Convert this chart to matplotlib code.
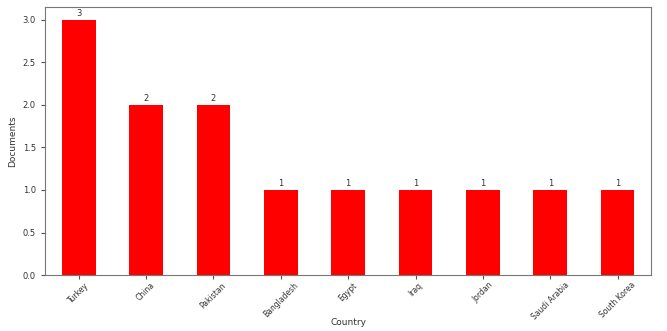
import matplotlib
matplotlib.use("Agg")
import matplotlib.pyplot as plt
import numpy as np

countries = ["Turkey", "China", "Pakistan", "Bangladesh", "Egypt", "Iraq",
             "Jordan", "Saudi Arabia", "South Korea"]
documents = [3, 2, 2, 1, 1, 1, 1, 1, 1]

fig = plt.figure(figsize=(6.67, 3.31), dpi=100)
ax = fig.add_axes([0.0675, 0.169, 0.909, 0.81])

x = np.arange(len(countries))
bars = ax.bar(x, documents, width=0.5, color="red")
ax.set_xlim(-0.5, len(countries) - 0.5)

for b, v in zip(bars, documents):
    ax.annotate(str(v), (b.get_x() + b.get_width() / 2, v), xytext=(0, 1.5),
                textcoords="offset points", ha="center", va="bottom",
                fontsize=6, color="#333333")

ax.set_xticks(x)
ax.set_xticklabels(countries, rotation=45, fontsize=5.5, color="#333333",
                   family="Liberation Sans Narrow")
ax.tick_params(axis="y", labelsize=6, labelcolor="#333333", length=3, color="#555555")
ax.tick_params(axis="x", length=3, color="#555555", pad=1)
ax.set_xlabel("Country", fontsize=6.5, color="#333333")
ax.xaxis.set_label_coords(0.5, -0.16)
ax.set_ylabel("Documents", fontsize=6.5, color="#333333", family="Liberation Sans Narrow")
for s in ax.spines.values():
    s.set_color("#777777")

fig.savefig("out.png", dpi=100)
